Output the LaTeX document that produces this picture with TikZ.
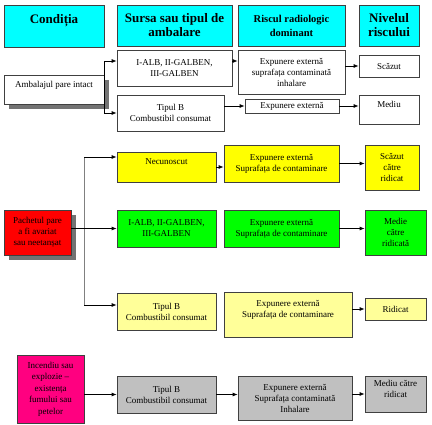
\documentclass[tikz,border=0pt]{standalone}
\usepackage{fontspec}
\setmainfont{Liberation Serif}
\usetikzlibrary{arrows.meta,shadows}

\definecolor{Chdrcyan}{HTML}{00FFFF}
\definecolor{Cpackyel}{HTML}{FFFF00}
\definecolor{Cpalyel}{HTML}{FFFF99}
\definecolor{Cpackgrn}{HTML}{00FF00}
\definecolor{Cpackred}{HTML}{FF0000}
\definecolor{Cfiremag}{HTML}{FF0080}
\definecolor{Cboxgray}{HTML}{C0C0C0}
\definecolor{Cedge}{HTML}{404040}
\definecolor{Ctrunk}{HTML}{808080}

\tikzset{
  cell/.style={draw=Cedge,line width=0.7pt,align=center,inner sep=1pt,
    font=\fontsize{9}{11}\selectfont},
  head/.style={cell,fill=Chdrcyan,font=\fontsize{13}{14}\selectfont\bfseries},
  sz/.style 2 args={minimum width=#1pt,minimum height=#2pt},
  shade/.style={drop shadow={shadow xshift=5pt,shadow yshift=-5pt,fill=black!55,opacity=1}},
  flow/.style={-{Latex[length=5pt,width=4pt]},line width=0.8pt},
}

\begin{document}
\begin{tikzpicture}[x=1pt,y=-1pt]
	\useasboundingbox (0,0) rectangle (432,425);
	% column heads
	\node[head,sz={100}{42}] (hcond) at (54,26) {Condiția\\\mbox{}};
	\node[head,sz={115}{41}] (hsursa) at (174.5,25.5) {Sursa sau tipul de\\ambalare};
	\node[head,sz={107}{41},font=\fontsize{10.5}{14}\selectfont\bfseries] (hrisc) at (291.5,25.5) {Riscul radiologic\\dominant};
	\node[head,sz={60}{41}] (hnivel) at (389,25.5) {Nivelul\\riscului};

	% intact package
	\node[cell,fill=white,shade,sz={100}{29}] (intact) at (54,89.5) {Ambalajul pare intact\\\mbox{}};
	\node[cell,fill=white,sz={115}{36}] (alb1) at (174.5,68) {I-ALB, II-GALBEN,\\III-GALBEN};
	\node[cell,fill=white,sz={107}{36}] (tipb1) at (170.5,113) {Tipul B\\Combustibil consumat};
	\node[cell,fill=white,sz={107}{44}] (exp1) at (291.5,72) {Expunere externă\\suprafața contaminată\\inhalare};
	\node[cell,fill=white,sz={94}{14}] (exp2) at (292,106) {Expunere externă};
	\node[cell,fill=white,sz={60}{22}] (scazut1) at (389,66) {Scăzut};
	\node[cell,fill=white,sz={60}{29}] (mediu1) at (389,109.5) {Mediu\\\mbox{}};

	\coordinate (a1) at ([yshift=7pt]alb1.east);
	\draw[flow] (intact.east) |- ([yshift=7pt]alb1.west);
	\draw[flow] (intact.east) |- (tipb1.west);
	\draw[flow] (a1) -- (a1 -| exp1.west);
	\draw[flow] (exp2.west -| tipb1.east) -- (exp2.west);
	\draw[flow] (scazut1.west -| exp1.east) -- (scazut1.west);
	\draw[flow] (exp2.east) -- (exp2.east -| mediu1.west);

	% damaged package
	\node[cell,fill=Cpackred,shade,sz={67}{45}] (pachet) at (37.5,232.5) {Pachetul pare\\a fi avariat\\sau neetanșat};
	\node[cell,fill=Cpackyel,sz={99}{30}] (necun) at (166.5,167) {Necunoscut\\\mbox{}};
	\node[cell,fill=Cpackyel,sz={115}{37}] (expY1) at (281.5,163.5) {Expunere externă\\Suprafața de contaminare};
	\node[cell,fill=Cpackyel,sz={54}{45}] (scazut2) at (392,167.5) {Scăzut\\către\\ridicat};
	\node[cell,fill=Cpackgrn,sz={99}{37}] (alb2) at (166.5,228.5) {I-ALB, II-GALBEN,\\III-GALBEN};
	\node[cell,fill=Cpackgrn,sz={115}{37}] (expG) at (281.5,228.5) {Expunere externă\\Suprafața de contaminare};
	\node[cell,fill=Cpackgrn,sz={61}{45}] (medie) at (395.5,232.5) {Medie\\către\\ridicată};
	\node[cell,fill=Cpalyel,sz={99}{37}] (tipbY) at (166.5,311.5) {Tipul B\\Combustibil consumat};
	\node[cell,fill=Cpalyel,sz={128}{45}] (expY2) at (288,314.5) {Expunere externă\\Suprafața de contaminare\\\mbox{}};
	\node[cell,fill=Cpalyel,sz={61}{22}] (ridicat) at (395.5,309) {Ridicat};

	\coordinate (tkA) at (84,157);
	\coordinate (tkB) at (84,305);
	\draw[Ctrunk,line width=0.8pt] (tkA) -- (tkB);
	\draw[flow] (tkA) -- (tkA -| necun.west);
	\draw[flow] (tkB) -- (tkB -| tipbY.west);
	\draw[flow] (pachet.east |- alb2.west) -- (alb2.west);
	\draw[flow] (necun.east) -- (necun.east -| expY1.west);
	\draw[flow] (expY1.east) -- (expY1.east -| scazut2.west);
	\draw[flow] (expG.east) -- (expG.east -| medie.west);
	\draw[flow] (ridicat.west -| expY2.east) -- (ridicat.west);

	% fire or explosion
	\node[cell,fill=Cfiremag,sz={67}{68},font=\fontsize{9}{11.5}\selectfont] (incendiu) at (50.5,389) {Incendiu sau\\explozie --\\existența\\fumului sau\\petelor};
	\node[cell,fill=Cboxgray,sz={99}{37}] (tipbG) at (166.5,394.5) {Tipul B\\Combustibil consumat};
	\node[cell,fill=Cboxgray,sz={114}{44}] (expGray) at (295,398) {Expunere externă\\Suprafața contaminată\\Inhalare};
	\node[cell,fill=Cboxgray,sz={61}{36}] (mediuRid) at (395.5,394) {Mediu către\\ridicat\\\mbox{}};

	\draw[flow] (tipbG.west -| incendiu.east) -- (tipbG.west);
	\draw[flow] (tipbG.east) -- (tipbG.east -| expGray.west);
	\draw[flow] (mediuRid.west -| expGray.east) -- (mediuRid.west);
\end{tikzpicture}
\end{document}
